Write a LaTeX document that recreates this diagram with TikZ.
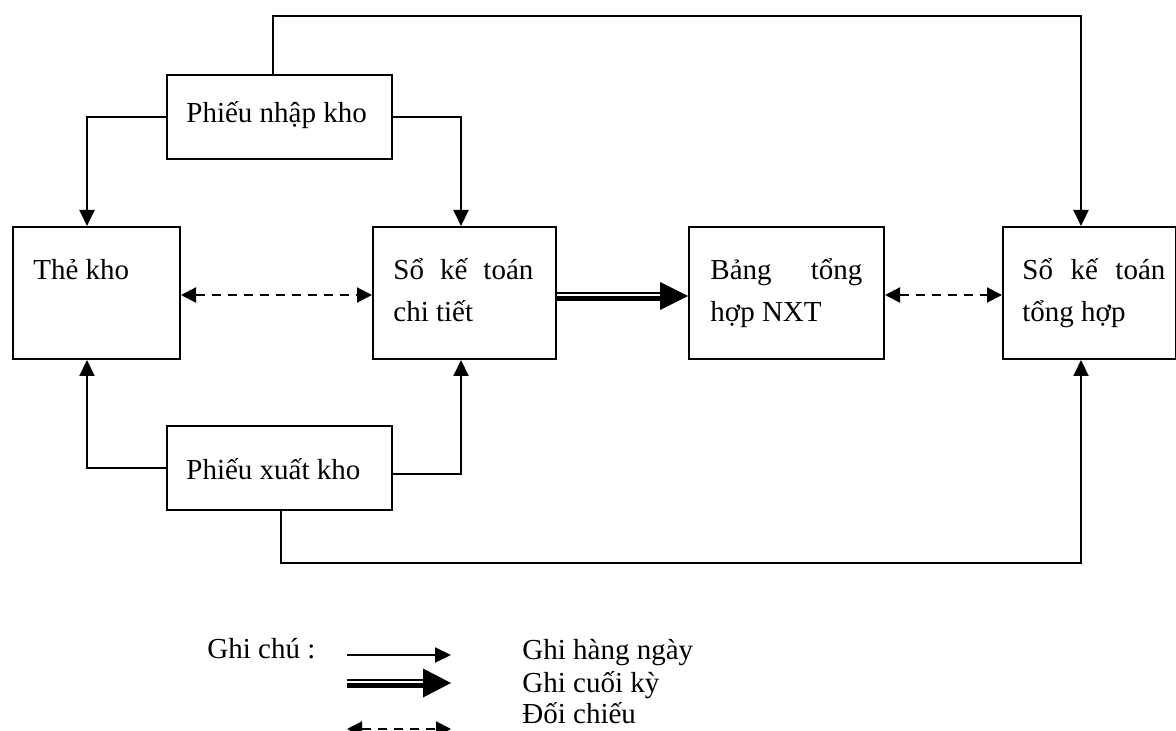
\documentclass[tikz,border=0pt]{standalone}
\usepackage{fontspec}
\setmainfont{Liberation Serif}
\usetikzlibrary{arrows.meta,calc}
\begin{document}
\begin{tikzpicture}[x=0.5pt,y=-0.5pt,
  box/.style 2 args={draw,line width=1pt,inner sep=0pt,
    minimum width=#1*0.5pt,minimum height=#2*0.5pt,anchor=north west},
  txt/.style={inner sep=0pt,anchor=base west,font=\fontsize{14.5}{21}\selectfont},
  conn/.style={line width=1pt,-{Triangle[length=8pt,width=7.5pt]}},
  cmp/.style={line width=1pt,dash pattern=on 4.5pt off 3.5pt,
    {Triangle[length=7.5pt,width=7.5pt]}-{Triangle[length=7.5pt,width=7.5pt]}}]
\path[use as bounding box] (0,0) rectangle (1176,731);

% boxes
\node[box={225}{84}]  (pnk)  at (166,74)  {};
\node[box={167}{132}] (tk)   at (12,226)  {};
\node[box={183}{132}] (skct) at (372,226) {};
\node[box={195}{132}] (bth)  at (688,226) {};
\node[box={173}{132}] (sth)  at (1002,226) {};
\node[box={225}{84}]  (pxk)  at (166,425) {};

% box texts
\node[txt] (pnkT)  at (186,123) {Phiếu nhập kho};
\node[txt] (tkT)   at (33,280)  {Thẻ kho};
\node[txt] (skctA) at (393,280) {\hbox to 70pt{Sổ\hfill kế\hfill toán}};
\node[txt] (skctB) at (393,322) {chi tiết};
\node[txt] (bthA)  at (710,280) {\hbox to 76pt{Bảng\hfill tổng}};
\node[txt] (bthB)  at (710,322) {hợp NXT};
\node[txt] (sthA)  at (1022,280) {\hbox to 71.5pt{Sổ\hfill kế\hfill toán}};
\node[txt] (sthB)  at (1022,322) {tổng hợp};
\node[txt] (pxkT)  at (186,479) {Phiếu xuất kho};

% routing points
\coordinate (tl) at (273,16);
\coordinate (tr) at (1081,16);
\coordinate (wl) at (87,117);
\coordinate (wr) at (461,117);
\coordinate (xl) at (87,468);
\coordinate (xr) at (461,474);
\coordinate (bl) at (281,563);
\coordinate (br) at (1081,563);
\coordinate (my) at (0,295);
\coordinate (dy) at (0,296);

% daily entries
\draw[conn] (pnk.north -| tl) -- (tl) -- (tr) -- (sth.north -| tr);
\draw[conn] (pnk.west |- wl) -- (wl) -- (tk.north -| wl);
\draw[conn] (pnk.east |- wr) -- (wr) -- (skct.north -| wr);
\draw[conn] (pxk.west |- xl) -- (xl) -- (tk.south -| xl);
\draw[conn] (pxk.east |- xr) -- (xr) -- (skct.south -| xr);
\draw[conn] (pxk.south -| bl) -- (bl) -- (br) -- (sth.south -| br);

% cross-checks
\draw[cmp] (tk.east |- my) -- (skct.west |- my);
\draw[cmp] (bth.east |- my) -- (sth.west |- my);

% period-end entry (double arrow)
\draw[line width=1pt] ($(skct.east |- dy)+(0,-3)$) -- ($(bth.west |- dy)+(-27,-3)$);
\draw[line width=2.5pt] ($(skct.east |- dy)+(0,2.5)$) -- ($(bth.west |- dy)+(-27,2.5)$);
\fill ($(bth.west |- dy)+(-28,-14)$) -- (bth.west |- dy) -- ($(bth.west |- dy)+(-28,14)$) -- cycle;

% legend
\node[txt] (gc) at (207,658) {Ghi chú :};
\coordinate (l1s) at (347,655);
\coordinate (l1e) at (451,655);
\coordinate (l2s) at (347,683);
\coordinate (l2e) at (451,683);
\coordinate (l3s) at (347,729);
\coordinate (l3e) at (451,729);
\draw[conn] (l1s) -- (l1e);
\draw[line width=1pt] ($(l2s)+(0,-3)$) -- ($(l2e)+(-27,-3)$);
\draw[line width=2.5pt] ($(l2s)+(0,2.5)$) -- ($(l2e)+(-27,2.5)$);
\fill ($(l2e)+(-28,-14.5)$) -- (l2e) -- ($(l2e)+(-28,14.5)$) -- cycle;
\draw[cmp] (l3s) -- (l3e);
\node[txt] (lg1) at (522,659) {Ghi hàng ngày};
\node[txt] (lg2) at (522,692) {Ghi cuối kỳ};
\node[txt] (lg3) at (522,723) {Đối chiếu};
\end{tikzpicture}
\end{document}
